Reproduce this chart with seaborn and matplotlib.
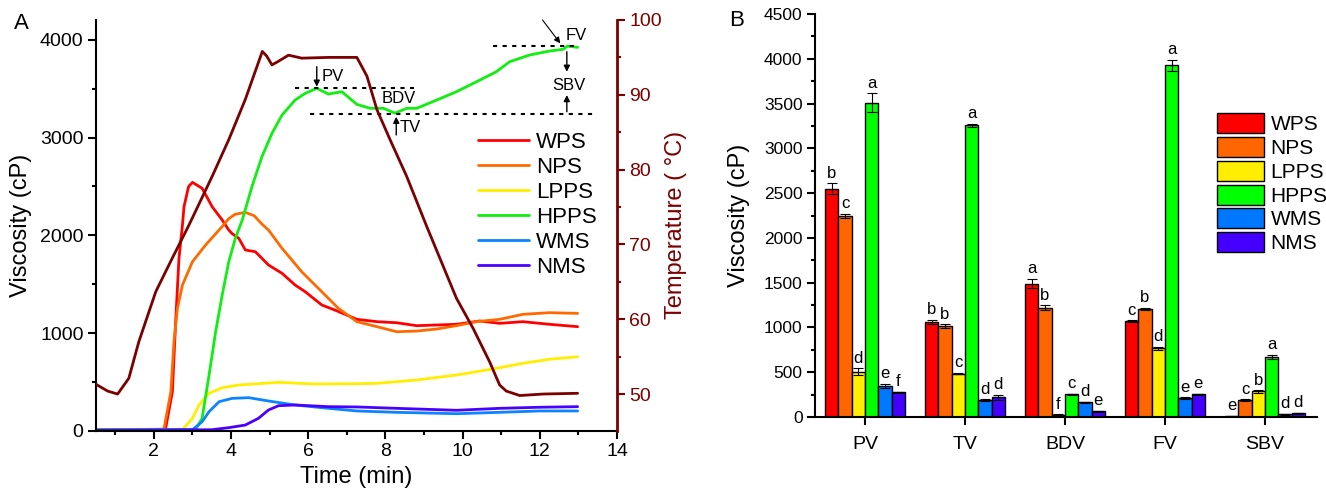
import numpy as np
import pandas as pd
import matplotlib
matplotlib.use("Agg")
import matplotlib.pyplot as plt
import seaborn as sns
from matplotlib.ticker import MultipleLocator

# ---------------- data: panel A (RVA curves) ----------------
samples = ["WPS", "NPS", "LPPS", "HPPS", "WMS", "NMS"]

t_wps = [0.5, 1.5, 2.3, 2.48, 2.56, 2.65, 2.74, 2.78, 2.9, 3.0, 3.25, 3.51, 3.77, 3.94, 4.02, 4.2,
         4.37, 4.63, 4.97, 5.32, 5.66, 5.92, 6.35, 6.69, 7.26, 7.78, 8.29, 8.81, 9.33, 9.84,
         10.44, 10.96, 11.56, 12.25, 12.98]
v_wps = [10, 10, 15, 400, 1082, 1765, 2105, 2293, 2500, 2542, 2481, 2293, 2157, 2054, 2020, 1969,
         1850, 1832, 1696, 1611, 1491, 1423, 1287, 1235, 1140, 1116, 1105, 1075, 1082, 1089,
         1123, 1099, 1116, 1089, 1065]

t_nps = [0.5, 2.26, 2.44, 2.52, 2.61, 2.74, 3.0, 3.34, 3.77, 3.94, 4.1, 4.37, 4.6, 4.8, 4.97,
         5.32, 5.83, 6.35, 6.78, 7.26, 7.78, 8.29, 8.81, 9.33, 9.84, 10.36, 10.96, 11.56, 12.25, 12.98]
v_nps = [10, 15, 400, 911, 1253, 1491, 1730, 1901, 2090, 2170, 2215, 2235, 2200, 2115, 2054,
         1867, 1627, 1423, 1253, 1116, 1065, 1013, 1020, 1041, 1075, 1116, 1140, 1191, 1208, 1201]

t_lpps = [0.5, 2.74, 3.0, 3.17, 3.43, 3.77, 4.2, 5.23, 6.18, 7.26, 7.78, 8.81, 9.84, 10.36, 10.96,
          11.56, 12.25, 12.98]
v_lpps = [5, 10, 127, 263, 383, 440, 468, 495, 478, 481, 485, 519, 570, 604, 645, 690, 731, 757]

t_hpps = [0.5, 3.08, 3.25, 3.43, 3.6, 3.77, 3.94, 4.11, 4.29, 4.54, 4.8, 5.06, 5.32, 5.66, 5.92,
          6.22, 6.52, 6.87, 7.26, 7.6, 7.95, 8.25, 8.55, 8.81, 9.33, 9.84, 10.36, 10.87, 11.22,
          11.73, 12.25, 12.6, 12.72, 12.98]
v_hpps = [10, 10, 127, 570, 1013, 1389, 1730, 1969, 2157, 2497, 2805, 3044, 3231, 3385, 3453,
          3505, 3446, 3470, 3340, 3300, 3300, 3250, 3300, 3300, 3385, 3470, 3572, 3674, 3777,
          3845, 3886, 3904, 3937, 3924]

t_wms = [0.5, 3.0, 3.25, 3.43, 3.69, 4.03, 4.46, 4.97, 5.66, 6.52, 7.26, 8.29, 9.84, 10.96, 12.0, 12.98]
v_wms = [5, 10, 92, 195, 297, 331, 338, 304, 263, 229, 202, 188, 174, 188, 202, 202]

t_nms = [0.5, 3.5, 3.94, 4.37, 4.71, 4.97, 5.23, 5.66, 6.52, 7.26, 8.29, 9.84, 10.96, 12.0, 12.98]
v_nms = [5, 10, 31, 58, 127, 212, 256, 263, 246, 243, 229, 209, 229, 240, 246]

t_temp = [0.5, 0.8, 1.06, 1.35, 1.61, 2.05, 2.48, 2.91, 3.51, 3.94, 4.37, 4.81, 4.92, 5.06, 5.2,
          5.49, 5.83, 6.52, 7.26, 7.52, 7.78, 8.12, 8.55, 9.07, 9.84, 10.27, 10.70, 10.96, 11.13,
          11.48, 12.08, 12.98]
temp = [51.3, 50.4, 50.0, 52.1, 57.0, 63.7, 68.2, 72.6, 79.1, 84.0, 89.4, 95.8, 95.2, 94.0, 94.4,
        95.3, 94.9, 95.0, 95.0, 92.5, 88.0, 84.0, 79.1, 72.4, 62.8, 58.8, 54.3, 51.2, 50.4,
        49.8, 50.0, 50.1]

# ---------------- data: panel B (bar chart) ----------------
params = ["PV", "TV", "BDV", "FV", "SBV"]
bar_wps = [2550, 1060, 1490, 1070, 10]
bar_nps = [2245, 1015, 1220, 1207, 192]
bar_lpps = [505, 485, 25, 767, 285]
bar_hpps = [3510, 3255, 252, 3925, 670]
bar_wms = [348, 189, 163, 208, 30]
bar_nms = [274, 219, 63, 252, 41]

err_wps = [58, 25, 55, 10, 5]
err_nps = [25, 20, 30, 15, 8]
err_lpps = [40, 8, 5, 15, 12]
err_hpps = [105, 20, 10, 65, 25]
err_wms = [20, 8, 10, 10, 5]
err_nms = [10, 30, 5, 10, 5]

let_wps = ["b", "b", "a", "c", "e"]
let_nps = ["c", "b", "b", "b", "c"]
let_lpps = ["d", "c", "f", "d", "b"]
let_hpps = ["a", "a", "c", "a", "a"]
let_wms = ["e", "d", "d", "e", "d"]
let_nms = ["f", "d", "e", "e", "d"]

# ---------------- styling ----------------
line_colors = ["#FF0000", "#FF6A00", "#FFEE00", "#11EE11", "#0A84FF", "#4B00FF"]
bar_colors = ["#FF0000", "#FF6600", "#FFEE00", "#00FF00", "#0077FF", "#4400FF"]
temp_color = "#7B0000"

sns.set_theme(style="ticks")
plt.rcParams["font.family"] = ["Liberation Sans", "DejaVu Sans"]
plt.rcParams.update({
    "axes.linewidth": 1.5,
    "axes.edgecolor": "black",
    "xtick.color": "black",
    "ytick.color": "black",
    "xtick.direction": "out",
    "ytick.direction": "out",
    "xtick.major.size": 5.5,
    "ytick.major.size": 5.5,
    "xtick.minor.size": 3,
    "ytick.minor.size": 3,
    "xtick.major.width": 1.5,
    "ytick.major.width": 1.5,
    "xtick.minor.width": 1.5,
    "ytick.minor.width": 1.5,
    "text.color": "black",
    "axes.labelcolor": "black",
})

fig = plt.figure(figsize=(13.26, 4.95), dpi=100)
axA = fig.add_axes([96 / 1326, 1 - 430.7 / 495, (617 - 96) / 1326, (430.7 - 20) / 495])
axB = fig.add_axes([815 / 1326, 1 - 417 / 495, (1317 - 815) / 1326, (417 - 14) / 495])

# ---------------- panel A ----------------
frames = []
for name, tt, vv in zip(samples, [t_wps, t_nps, t_lpps, t_hpps, t_wms, t_nms],
                        [v_wps, v_nps, v_lpps, v_hpps, v_wms, v_nms]):
    frames.append(pd.DataFrame({"Time": tt, "Viscosity": vv, "Sample": name}))
dfA = pd.concat(frames, ignore_index=True)

sns.lineplot(data=dfA, x="Time", y="Viscosity", hue="Sample", hue_order=samples,
             palette=line_colors, estimator=None, sort=False, linewidth=2.0, ax=axA)
axA.set_xlim(0.5, 14)
axA.set_ylim(0, 4204)
axA.xaxis.set_major_locator(MultipleLocator(2))
axA.xaxis.set_minor_locator(MultipleLocator(1))
axA.yaxis.set_major_locator(MultipleLocator(1000))
axA.yaxis.set_minor_locator(MultipleLocator(500))
axA.tick_params(labelsize=14)
axA.set_xlabel("Time (min)", fontsize=17, labelpad=4)
axA.set_ylabel("Viscosity (cP)", fontsize=17, labelpad=6)
axA.spines["top"].set_visible(False)
axA.spines["right"].set_visible(False)

handles, labels = axA.get_legend_handles_labels()
axA.legend(handles, labels, loc="upper left", bbox_to_anchor=(0.733, 0.728), frameon=False,
           fontsize=16, handlelength=2.3, handletextpad=0.3, labelspacing=0.18,
           borderpad=0, borderaxespad=0)

axT = axA.twinx()
sns.lineplot(x=t_temp, y=temp, color=temp_color, linewidth=2.0, ax=axT)
axT.set_ylim(45.1, 100)
axT.yaxis.set_major_locator(MultipleLocator(10))
axT.yaxis.set_minor_locator(MultipleLocator(5))
axT.tick_params(axis="y", which="both", colors=temp_color, labelsize=14)
axT.spines["right"].set_color(temp_color)
axT.spines["right"].set_linewidth(2)
axT.spines["top"].set_visible(False)
axT.spines["left"].set_visible(False)
axT.spines["bottom"].set_visible(False)
axT.set_ylabel("Temperature ( °C)", fontsize=17, color=temp_color, labelpad=2)

# annotations (dotted reference lines and arrows)
dot = dict(color="black", lw=1.5, ls=(0, (2, 2.6)))
axA.plot([5.66, 8.73], [3511, 3511], **dot)
axA.plot([6.05, 13.37], [3241, 3241], **dot)
axA.plot([10.79, 12.98], [3941, 3941], **dot)
arr = dict(arrowstyle="-|>", color="black", lw=1, mutation_scale=9, shrinkA=0, shrinkB=0)
axA.annotate("", xy=(6.22, 3521), xytext=(6.22, 3726), arrowprops=arr)
axA.annotate("", xy=(8.28, 3214), xytext=(8.28, 3027), arrowprops=arr)
axA.annotate("", xy=(12.7, 3674), xytext=(12.7, 3879), arrowprops=arr)
axA.annotate("", xy=(12.7, 3436), xytext=(12.7, 3265), arrowprops=arr)
axA.annotate("", xy=(12.53, 3965), xytext=(12.07, 4204), arrowprops=dict(arrowstyle="-|>", color="black",
             lw=0.8, mutation_scale=9, shrinkA=0, shrinkB=0), annotation_clip=False)
axA.text(6.35, 3623, "PV", fontsize=12, va="center", ha="left")
axA.text(8.35, 3402, "BDV", fontsize=12, va="center", ha="center")
axA.text(8.37, 3105, "TV", fontsize=12, va="center", ha="left")
axA.text(12.95, 4050, "FV", fontsize=12, va="center", ha="center")
axA.text(12.76, 3538, "SBV", fontsize=12, va="center", ha="center")

fig.text(21 / 1326, 1 - 23.5 / 495, "A", fontsize=16, ha="center", va="center")
fig.text(737 / 1326, 1 - 20 / 495, "B", fontsize=16, ha="center", va="center")

# ---------------- panel B ----------------
bar_vals = [bar_wps, bar_nps, bar_lpps, bar_hpps, bar_wms, bar_nms]
bar_errs = [err_wps, err_nps, err_lpps, err_hpps, err_wms, err_nms]
bar_lets = [let_wps, let_nps, let_lpps, let_hpps, let_wms, let_nms]
rows = []
for name, vals in zip(samples, bar_vals):
    for p, v in zip(params, vals):
        rows.append({"Parameter": p, "Viscosity": v, "Sample": name})
dfB = pd.DataFrame(rows)

sns.barplot(data=dfB, x="Parameter", y="Viscosity", hue="Sample", order=params, hue_order=samples,
            palette=bar_colors, errorbar=None, edgecolor="black", linewidth=1, saturation=1,
            width=0.8, ax=axB)

for cont, errs, lets in zip(axB.containers, bar_errs, bar_lets):
    for patch, e, lt in zip(cont.patches, errs, lets):
        xc = patch.get_x() + patch.get_width() / 2
        h = patch.get_height()
        axB.errorbar(xc, h, yerr=e, fmt="none", ecolor="black", elinewidth=0.8,
                     capsize=3.5, capthick=0.8)
        axB.annotate(lt, (xc, h + e), xytext=(0, 4), textcoords="offset points",
                     ha="center", va="baseline", fontsize=12)

axB.set_xlim(-0.5, 4.52)
axB.set_ylim(0, 4500)
axB.yaxis.set_major_locator(MultipleLocator(500))
axB.yaxis.set_minor_locator(MultipleLocator(250))
axB.tick_params(axis="y", labelsize=12.5)
axB.tick_params(axis="x", labelsize=14, pad=8)
axB.set_xlabel("")
axB.set_ylabel("Viscosity (cP)", fontsize=17, labelpad=10)
axB.spines["top"].set_visible(False)
axB.spines["right"].set_visible(False)

hB, lB = axB.get_legend_handles_labels()
axB.legend(hB, lB, loc="upper left", bbox_to_anchor=(0.801, 0.754), frameon=False, fontsize=15,
           handlelength=2.26, handleheight=1.1, handletextpad=0.3, labelspacing=0.13,
           borderpad=0, borderaxespad=0)

fig.savefig("out.png", dpi=100)
